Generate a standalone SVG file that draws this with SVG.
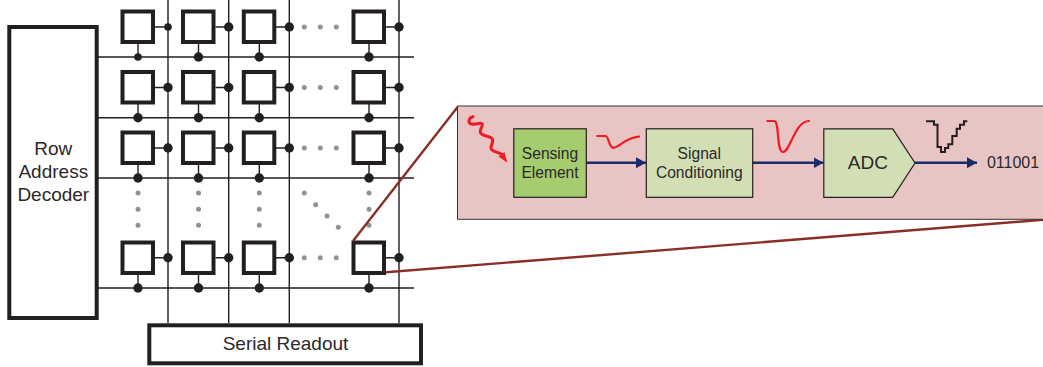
<svg xmlns="http://www.w3.org/2000/svg" width="1043" height="367" viewBox="0 0 1043 367">
<style>
text{font-family:"Liberation Sans",Arial,sans-serif;fill:#2b2829;text-anchor:middle}
.big{font-size:19px}.mid{font-size:15.6px}
.thick{fill:#fff;stroke:#231f20;stroke-width:4}
.cell{fill:#fff;stroke:#231f20;stroke-width:4}
.wire{stroke:#231f20;stroke-width:1.4;fill:none}
.dot{fill:#231f20}
.g{fill:#8f9195}
.lead{stroke:#8a2f28;stroke-width:2.400;fill:none}
.box{stroke:#231f20;stroke-width:1.200}
.flow{stroke:#1b2a6b;stroke-width:2.600;fill:none;marker-end:url(#ah)}
.red{stroke:#ee1c25;stroke-width:2.200;fill:none;stroke-linecap:round;stroke-linejoin:round}
</style>
<defs>
<marker id="ah" markerUnits="userSpaceOnUse" markerWidth="11" markerHeight="11" refX="10" refY="5.500" orient="auto"><path d="M0 0L10 5.500L0 11Z" fill="#1b2a6b"/></marker>
<rect id="sq" class="cell" width="30.500" height="30.500"/>
</defs>
<rect width="1043" height="367" fill="#fff"/>
<g id="connectors">
<path class="wire" d="M98 57H414M98 117.700H414M98 178H414M98 288H414M168 0V323M228.700 0V323M289.300 0V323M399 0V323"/>
<path class="wire" d="M155 27H168M215.500 27H228.700M276 27H289.300M385.500 27H399M155 87.500H168M215.500 87.500H228.700M276 87.500H289.300M385.500 87.500H399M155 148H168M215.500 148H228.700M276 148H289.300M385.500 148H399M155 257.700H168M215.500 257.700H228.700M276 257.700H289.300M385.500 257.700H399"/>
<path class="wire" d="M138 44V57M198.500 44V57M259.300 44V57M369 44V57M138 104V117.700M198.500 104V117.700M259.300 104V117.700M369 104V117.700M138 164V178M198.500 164V178M259.300 164V178M369 164V178M138 274V288M198.500 274V288M259.300 274V288M369 274V288"/>
<g class="dot">
<circle cx="168" cy="27" r="3.800"/><circle cx="228.700" cy="27" r="4.700"/><circle cx="289.300" cy="27" r="4.700"/><circle cx="399" cy="27" r="4.700"/>
<circle cx="168" cy="87.500" r="4.700"/><circle cx="228.700" cy="87.500" r="4.700"/><circle cx="289.300" cy="87.500" r="4.700"/><circle cx="399" cy="87.500" r="4.700"/>
<circle cx="168" cy="148" r="4.700"/><circle cx="228.700" cy="148" r="4.700"/><circle cx="289.300" cy="148" r="4.700"/><circle cx="399" cy="148" r="4.700"/>
<circle cx="168" cy="257.700" r="4.700"/><circle cx="228.700" cy="257.700" r="4.700"/><circle cx="289.300" cy="257.700" r="4.700"/><circle cx="399" cy="257.700" r="4.700"/>
<circle cx="138" cy="57" r="3.800"/><circle cx="198.500" cy="57" r="4.700"/><circle cx="259.300" cy="57" r="4.700"/><circle cx="369" cy="57" r="4.700"/>
<circle cx="138" cy="117.700" r="4.700"/><circle cx="198.500" cy="117.700" r="4.700"/><circle cx="259.300" cy="117.700" r="4.700"/><circle cx="369" cy="117.700" r="4.700"/>
<circle cx="138" cy="178" r="4.700"/><circle cx="198.500" cy="178" r="4.700"/><circle cx="259.300" cy="178" r="4.700"/><circle cx="369" cy="178" r="4.700"/>
<circle cx="138" cy="288" r="4.700"/><circle cx="198.500" cy="288" r="4.700"/><circle cx="259.300" cy="288" r="4.700"/><circle cx="369" cy="288" r="4.700"/>
</g>
</g>
<g id="ellipsis" class="g">
<circle cx="304.300" cy="27" r="2.500"/><circle cx="320.300" cy="27" r="2.500"/><circle cx="336.300" cy="27" r="2.500"/>
<circle cx="304.300" cy="87.500" r="2.500"/><circle cx="320.300" cy="87.500" r="2.500"/><circle cx="336.300" cy="87.500" r="2.500"/>
<circle cx="304.300" cy="148" r="2.500"/><circle cx="320.300" cy="148" r="2.500"/><circle cx="336.300" cy="148" r="2.500"/>
<circle cx="304.300" cy="257.700" r="2.500"/><circle cx="320.300" cy="257.700" r="2.500"/><circle cx="336.300" cy="257.700" r="2.500"/>
<circle cx="138" cy="193" r="2.500"/><circle cx="138" cy="209.300" r="2.500"/><circle cx="138" cy="225.300" r="2.500"/>
<circle cx="198.500" cy="193" r="2.500"/><circle cx="198.500" cy="209.300" r="2.500"/><circle cx="198.500" cy="225.300" r="2.500"/>
<circle cx="259.300" cy="193" r="2.500"/><circle cx="259.300" cy="209.300" r="2.500"/><circle cx="259.300" cy="225.300" r="2.500"/>
<circle cx="369" cy="193" r="2.500"/><circle cx="369" cy="209.300" r="2.500"/><circle cx="369" cy="225.300" r="2.500"/>
<circle cx="304.300" cy="193" r="2.500"/><circle cx="315.700" cy="204.700" r="2.500"/><circle cx="327" cy="216" r="2.500"/><circle cx="338.300" cy="227.300" r="2.500"/>
</g>
<g id="row-decoder"><rect class="thick" x="9.300" y="27" width="87.400" height="291"/><text class="big" x="53.300" y="155">Row</text><text class="big" x="53.300" y="178.300">Address</text><text class="big" x="53.300" y="201">Decoder</text></g>
<g id="serial-readout"><rect class="thick" x="149.300" y="325.300" width="271.700" height="38"/><text class="big" x="285.500" y="350">Serial Readout</text></g>
<g id="pixel-1-1"><use href="#sq" x="122.500" y="11.500"/></g>
<g id="pixel-1-2"><use href="#sq" x="183" y="11.500"/></g>
<g id="pixel-1-3"><use href="#sq" x="243.800" y="11.500"/></g>
<g id="pixel-1-4"><use href="#sq" x="353.500" y="11.500"/></g>
<g id="pixel-2-1"><use href="#sq" x="122.500" y="72"/></g>
<g id="pixel-2-2"><use href="#sq" x="183" y="72"/></g>
<g id="pixel-2-3"><use href="#sq" x="243.800" y="72"/></g>
<g id="pixel-2-4"><use href="#sq" x="353.500" y="72"/></g>
<g id="pixel-3-1"><use href="#sq" x="122.500" y="132.500"/></g>
<g id="pixel-3-2"><use href="#sq" x="183" y="132.500"/></g>
<g id="pixel-3-3"><use href="#sq" x="243.800" y="132.500"/></g>
<g id="pixel-3-4"><use href="#sq" x="353.500" y="132.500"/></g>
<g id="pixel-4-1"><use href="#sq" x="122.500" y="242.500"/></g>
<g id="pixel-4-2"><use href="#sq" x="183" y="242.500"/></g>
<g id="pixel-4-3"><use href="#sq" x="243.800" y="242.500"/></g>
<g id="pixel-4-4"><use href="#sq" x="353.500" y="242.500"/></g>
<g id="zoom-leads"><path class="lead" d="M353 241L458 106.500M386 272.300L1043 219.800"/></g>
<g id="zoom-panel"><path d="M1043 106H457.500V219.300H1043" fill="#e8c5c3" stroke="#3a2f2f" stroke-width="1"/></g>
<g id="panel-connectors">
<path class="flow" d="M586.500 162.700H646"/>
<path class="flow" d="M753 162.700H823.500"/>
<path class="flow" d="M915 162.700H977"/>
</g>
<g id="sensing-element"><rect class="box" x="513.800" y="128.800" width="72.500" height="68.500" fill="#a6cc70"/><text class="mid" x="550" y="159">Sensing</text><text class="mid" x="550" y="177.700">Element</text></g>
<g id="signal-conditioning"><rect class="box" x="646.300" y="128.800" width="106.400" height="68.500" fill="#d2dfb4"/><text class="mid" x="699.300" y="159">Signal</text><text class="mid" x="699.300" y="177.700">Conditioning</text></g>
<g id="adc"><path class="box" d="M823.800 128.800H892.700L915 163L892.700 197.300H823.800Z" fill="#d2dfb4"/><text class="big" x="867.800" y="168.500">ADC</text></g>
<g id="output"><text x="1013" y="167.700" style="font-size:16px">011001</text></g>
<g id="signals">
<path class="red" style="stroke-width:3" d="M473 116.700C469 117.500 468 121.500 470 123.500C473 126 479 122 482 123.500C484 126 478 130 481 133.500C483.500 136.500 489 135.500 492 138.500C495 142 489 146 491.500 149.500C494 152.500 499 152 503 155"/>
<path d="M507.300 162.800L498.500 156.500L504.500 152.300Z" fill="#ee1c25"/>
<path class="red" d="M597.300 136H605.500C609 136 608.500 147.800 613.500 147.800C619 147.800 625 137.700 639 136.700"/>
<path class="red" d="M767.300 121H774C780 121 776 152 783 152C790 152 795 121 809 121"/>
<path d="M926 121.300H934V124.700H937.500V147H941V152H945V148H948.300V144.300H952.300V136H956.700V128.700H960V124.700H964V121.300H967.300" fill="none" stroke="#231f20" stroke-width="2"/>
</g>
</svg>
